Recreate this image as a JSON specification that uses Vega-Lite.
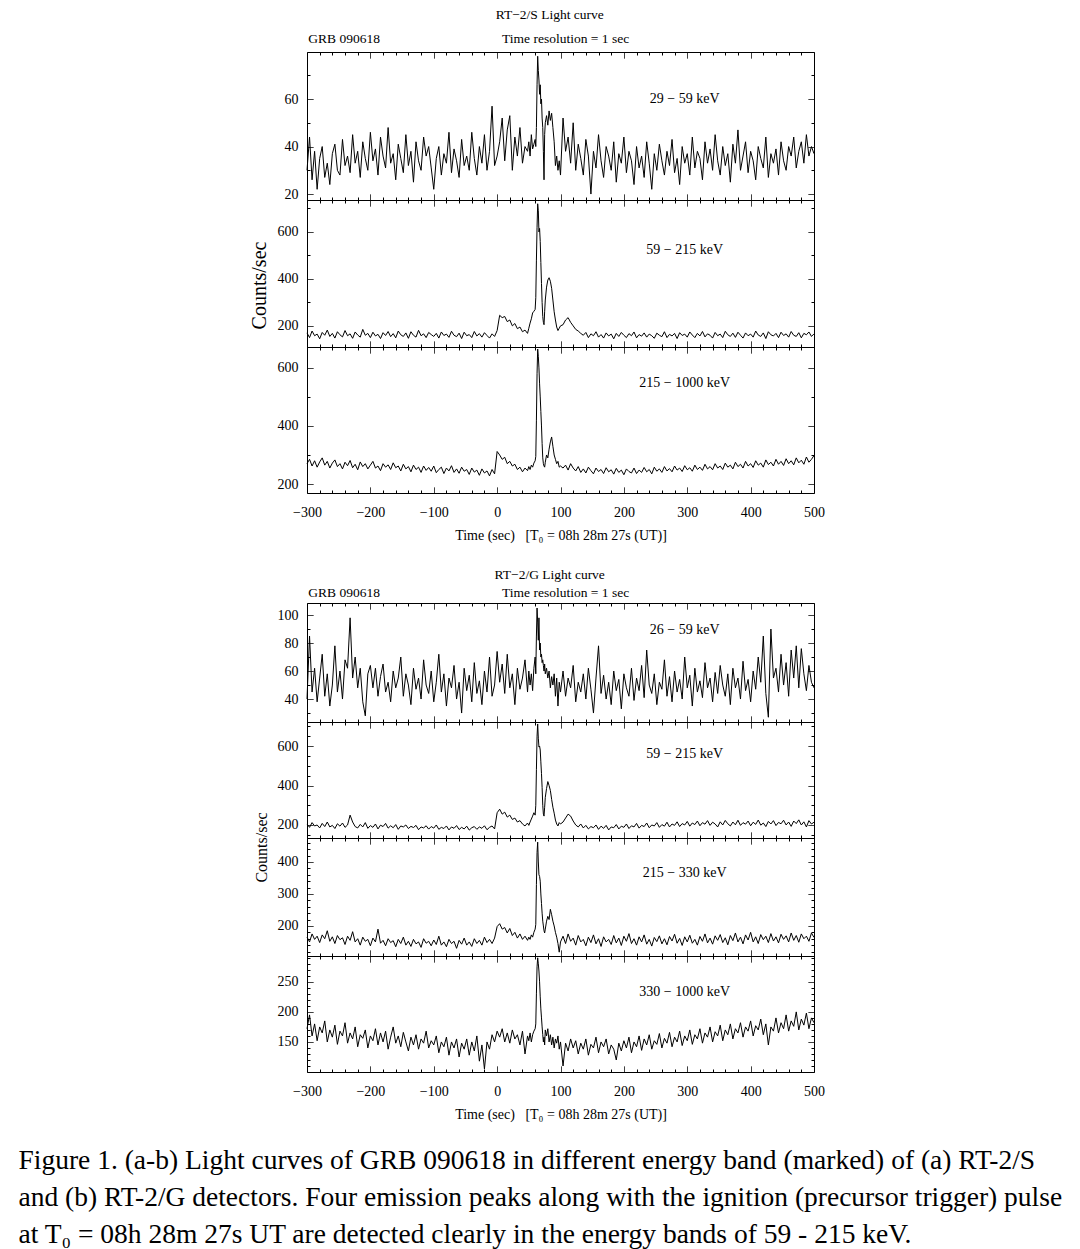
{
  "$schema": "https://vega.github.io/schema/vega-lite/v6.json",
  "background": "white",
  "padding": {"left": 18, "top": 7, "right": 5, "bottom": 2},
  "title": {
    "text": [
      "Figure 1. (a-b) Light curves of GRB 090618 in different energy band (marked) of (a) RT-2/S",
      "and (b) RT-2/G detectors. Four emission peaks along with the ignition (precursor trigger) pulse",
      "at T₀ = 08h 28m 27s UT are detected clearly in the energy bands of 59 - 215 keV."
    ],
    "orient": "bottom", "anchor": "start", "frame": "bounds", "dx": -230, "offset": 25,
    "fontSize": 27.5, "lineHeight": 37, "font": "Liberation Serif", "fontWeight": "normal", "color": "black"
  },
  "config": {
    "font": "Liberation Serif",
    "view": {"stroke": "black", "strokeWidth": 1},
    "style": {"guide-label": {"font": "Liberation Serif", "fontSize": 14, "fill": "black"}, "guide-title": {"font": "Liberation Serif", "fontSize": 14, "fill": "black"}},
    "axis": {
      "domain": false, "grid": false, "tickSize": -6, "tickColor": "black", "tickWidth": 1,
      "labelFont": "Liberation Serif", "labelFontSize": 14, "labelColor": "black", "labelPadding": 15,
      "labelFlush": false, "labelOverlap": false,
      "titleFont": "Liberation Serif", "titleFontSize": 14, "titleFontWeight": "normal", "titleColor": "black"
    },
    "title": {"font": "Liberation Serif", "fontWeight": "normal", "color": "black"}
  },
  "datasets": {
    "lc": [
      {"t":-300,"a1":30,"a2":170,"a3":270,"b1":40,"b2":205,"b3":165,"b4":172},
      {"t":-296,"a1":44,"a2":150,"a3":285,"b1":85,"b2":188,"b3":150,"b4":195},
      {"t":-292,"a1":26,"a2":178,"a3":262,"b1":45,"b2":212,"b3":175,"b4":160},
      {"t":-288,"a1":38,"a2":158,"a3":280,"b1":62,"b2":195,"b3":158,"b4":180},
      {"t":-284,"a1":22,"a2":165,"a3":258,"b1":38,"b2":200,"b3":168,"b4":152},
      {"t":-280,"a1":35,"a2":145,"a3":276,"b1":55,"b2":185,"b3":148,"b4":175},
      {"t":-276,"a1":40,"a2":172,"a3":290,"b1":72,"b2":208,"b3":172,"b4":165},
      {"t":-272,"a1":27,"a2":160,"a3":265,"b1":42,"b2":192,"b3":160,"b4":185},
      {"t":-268,"a1":33,"a2":182,"a3":278,"b1":58,"b2":215,"b3":185,"b4":150},
      {"t":-264,"a1":24,"a2":155,"a3":255,"b1":35,"b2":190,"b3":152,"b4":170},
      {"t":-260,"a1":37,"a2":168,"a3":272,"b1":50,"b2":198,"b3":166,"b4":158},
      {"t":-256,"a1":41,"a2":148,"a3":283,"b1":78,"b2":182,"b3":145,"b4":178},
      {"t":-252,"a1":30,"a2":175,"a3":260,"b1":45,"b2":206,"b3":170,"b4":146},
      {"t":-248,"a1":28,"a2":162,"a3":270,"b1":60,"b2":194,"b3":157,"b4":168},
      {"t":-244,"a1":43,"a2":153,"a3":252,"b1":40,"b2":210,"b3":163,"b4":160},
      {"t":-240,"a1":32,"a2":180,"a3":275,"b1":68,"b2":188,"b3":142,"b4":182},
      {"t":-236,"a1":36,"a2":158,"a3":263,"b1":62,"b2":200,"b3":168,"b4":148},
      {"t":-232,"a1":29,"a2":166,"a3":281,"b1":98,"b2":250,"b3":155,"b4":165},
      {"t":-228,"a1":45,"a2":147,"a3":256,"b1":55,"b2":215,"b3":182,"b4":155},
      {"t":-224,"a1":33,"a2":174,"a3":268,"b1":70,"b2":192,"b3":150,"b4":175},
      {"t":-220,"a1":38,"a2":161,"a3":249,"b1":48,"b2":185,"b3":160,"b4":142},
      {"t":-216,"a1":27,"a2":152,"a3":276,"b1":62,"b2":203,"b3":140,"b4":162},
      {"t":-212,"a1":42,"a2":185,"a3":260,"b1":38,"b2":190,"b3":165,"b4":156},
      {"t":-208,"a1":35,"a2":160,"a3":270,"b1":28,"b2":212,"b3":152,"b4":170},
      {"t":-204,"a1":30,"a2":168,"a3":252,"b1":58,"b2":183,"b3":158,"b4":140},
      {"t":-200,"a1":46,"a2":150,"a3":265,"b1":64,"b2":197,"b3":138,"b4":160},
      {"t":-196,"a1":34,"a2":173,"a3":278,"b1":48,"b2":188,"b3":162,"b4":152},
      {"t":-192,"a1":39,"a2":157,"a3":255,"b1":62,"b2":205,"b3":150,"b4":172},
      {"t":-188,"a1":28,"a2":164,"a3":262,"b1":42,"b2":180,"b3":190,"b4":145},
      {"t":-184,"a1":44,"a2":146,"a3":246,"b1":56,"b2":199,"b3":146,"b4":165},
      {"t":-180,"a1":36,"a2":171,"a3":270,"b1":65,"b2":192,"b3":155,"b4":150},
      {"t":-176,"a1":31,"a2":159,"a3":258,"b1":45,"b2":208,"b3":138,"b4":168},
      {"t":-172,"a1":48,"a2":176,"a3":266,"b1":52,"b2":184,"b3":160,"b4":138},
      {"t":-168,"a1":33,"a2":154,"a3":250,"b1":38,"b2":196,"b3":148,"b4":158},
      {"t":-164,"a1":37,"a2":167,"a3":273,"b1":60,"b2":186,"b3":154,"b4":175},
      {"t":-160,"a1":26,"a2":149,"a3":256,"b1":48,"b2":202,"b3":135,"b4":148},
      {"t":-156,"a1":41,"a2":178,"a3":262,"b1":55,"b2":178,"b3":158,"b4":160},
      {"t":-152,"a1":35,"a2":162,"a3":245,"b1":70,"b2":195,"b3":145,"b4":142},
      {"t":-148,"a1":29,"a2":155,"a3":268,"b1":42,"b2":190,"b3":165,"b4":166},
      {"t":-144,"a1":45,"a2":170,"a3":252,"b1":58,"b2":200,"b3":140,"b4":150},
      {"t":-140,"a1":32,"a2":147,"a3":260,"b1":50,"b2":182,"b3":152,"b4":135},
      {"t":-136,"a1":38,"a2":175,"a3":242,"b1":36,"b2":193,"b3":136,"b4":158},
      {"t":-132,"a1":25,"a2":160,"a3":265,"b1":62,"b2":187,"b3":158,"b4":145},
      {"t":-128,"a1":42,"a2":152,"a3":250,"b1":47,"b2":198,"b3":144,"b4":162},
      {"t":-124,"a1":34,"a2":181,"a3":258,"b1":55,"b2":176,"b3":150,"b4":138},
      {"t":-120,"a1":30,"a2":158,"a3":240,"b1":40,"b2":190,"b3":133,"b4":155},
      {"t":-116,"a1":44,"a2":166,"a3":262,"b1":68,"b2":185,"b3":160,"b4":148},
      {"t":-112,"a1":36,"a2":150,"a3":247,"b1":50,"b2":196,"b3":146,"b4":168},
      {"t":-108,"a1":40,"a2":172,"a3":257,"b1":44,"b2":179,"b3":152,"b4":140},
      {"t":-104,"a1":31,"a2":163,"a3":244,"b1":60,"b2":192,"b3":138,"b4":152},
      {"t":-100,"a1":22,"a2":155,"a3":262,"b1":38,"b2":184,"b3":156,"b4":145},
      {"t":-96,"a1":35,"a2":168,"a3":239,"b1":52,"b2":200,"b3":142,"b4":160},
      {"t":-92,"a1":40,"a2":148,"a3":250,"b1":72,"b2":178,"b3":168,"b4":132},
      {"t":-88,"a1":28,"a2":174,"a3":258,"b1":45,"b2":188,"b3":140,"b4":150},
      {"t":-84,"a1":37,"a2":159,"a3":236,"b1":58,"b2":182,"b3":150,"b4":142},
      {"t":-80,"a1":33,"a2":165,"a3":255,"b1":35,"b2":195,"b3":135,"b4":158},
      {"t":-76,"a1":46,"a2":151,"a3":245,"b1":55,"b2":175,"b3":158,"b4":128},
      {"t":-72,"a1":29,"a2":177,"a3":263,"b1":48,"b2":190,"b3":145,"b4":150},
      {"t":-68,"a1":39,"a2":160,"a3":240,"b1":64,"b2":183,"b3":152,"b4":140},
      {"t":-64,"a1":34,"a2":154,"a3":252,"b1":40,"b2":197,"b3":130,"b4":155},
      {"t":-60,"a1":27,"a2":169,"a3":237,"b1":52,"b2":177,"b3":155,"b4":125},
      {"t":-56,"a1":43,"a2":146,"a3":258,"b1":30,"b2":188,"b3":143,"b4":148},
      {"t":-52,"a1":32,"a2":173,"a3":244,"b1":62,"b2":180,"b3":162,"b4":138},
      {"t":-48,"a1":36,"a2":158,"a3":250,"b1":46,"b2":194,"b3":140,"b4":155},
      {"t":-44,"a1":30,"a2":163,"a3":233,"b1":57,"b2":174,"b3":150,"b4":128},
      {"t":-40,"a1":46,"a2":150,"a3":255,"b1":38,"b2":186,"b3":136,"b4":150},
      {"t":-36,"a1":35,"a2":176,"a3":241,"b1":66,"b2":192,"b3":160,"b4":135},
      {"t":-32,"a1":28,"a2":157,"a3":248,"b1":44,"b2":178,"b3":145,"b4":160},
      {"t":-28,"a1":40,"a2":167,"a3":230,"b1":53,"b2":190,"b3":155,"b4":118},
      {"t":-24,"a1":33,"a2":152,"a3":252,"b1":36,"b2":183,"b3":140,"b4":145},
      {"t":-20,"a1":45,"a2":171,"a3":238,"b1":60,"b2":196,"b3":165,"b4":105},
      {"t":-16,"a1":30,"a2":159,"a3":245,"b1":45,"b2":176,"b3":148,"b4":150},
      {"t":-12,"a1":38,"a2":148,"a3":228,"b1":70,"b2":188,"b3":158,"b4":138},
      {"t":-8,"a1":57,"a2":166,"a3":250,"b1":42,"b2":195,"b3":145,"b4":162},
      {"t":-4,"a1":32,"a2":155,"a3":235,"b1":50,"b2":180,"b3":162,"b4":150},
      {"t":0,"a1":36,"a2":180,"a3":312,"b1":74,"b2":262,"b3":198,"b4":168},
      {"t":4,"a1":42,"a2":245,"a3":300,"b1":52,"b2":280,"b3":207,"b4":158},
      {"t":8,"a1":52,"a2":235,"a3":285,"b1":65,"b2":255,"b3":190,"b4":172},
      {"t":12,"a1":34,"a2":240,"a3":292,"b1":44,"b2":265,"b3":195,"b4":150},
      {"t":16,"a1":47,"a2":218,"a3":270,"b1":72,"b2":240,"b3":178,"b4":165},
      {"t":20,"a1":53,"a2":225,"a3":278,"b1":48,"b2":250,"b3":192,"b4":148},
      {"t":24,"a1":30,"a2":200,"a3":262,"b1":58,"b2":228,"b3":170,"b4":170},
      {"t":28,"a1":44,"a2":210,"a3":268,"b1":36,"b2":235,"b3":180,"b4":155},
      {"t":32,"a1":36,"a2":188,"a3":250,"b1":62,"b2":215,"b3":162,"b4":162},
      {"t":36,"a1":48,"a2":195,"a3":258,"b1":47,"b2":222,"b3":175,"b4":145},
      {"t":40,"a1":33,"a2":175,"a3":242,"b1":55,"b2":205,"b3":158,"b4":168},
      {"t":44,"a1":40,"a2":182,"a3":255,"b1":68,"b2":195,"b3":168,"b4":130},
      {"t":48,"a1":38,"a2":168,"a3":246,"b1":45,"b2":210,"b3":155,"b4":160},
      {"t":50,"a1":42,"a2":190,"a3":260,"b1":60,"b2":198,"b3":165,"b4":152},
      {"t":52,"a1":36,"a2":212,"a3":250,"b1":50,"b2":215,"b3":158,"b4":165},
      {"t":54,"a1":45,"a2":230,"a3":265,"b1":58,"b2":230,"b3":172,"b4":150},
      {"t":56,"a1":39,"a2":255,"a3":258,"b1":46,"b2":245,"b3":165,"b4":162},
      {"t":58,"a1":41,"a2":262,"a3":272,"b1":62,"b2":262,"b3":180,"b4":168},
      {"t":60,"a1":43,"a2":270,"a3":280,"b1":70,"b2":250,"b3":190,"b4":172},
      {"t":61,"a1":40,"a2":320,"a3":295,"b1":58,"b2":300,"b3":205,"b4":180},
      {"t":62,"a1":48,"a2":480,"a3":420,"b1":85,"b2":480,"b3":330,"b4":230},
      {"t":63,"a1":66,"a2":620,"a3":580,"b1":105,"b2":650,"b3":430,"b4":275},
      {"t":64,"a1":78,"a2":720,"a3":665,"b1":95,"b2":712,"b3":462,"b4":290},
      {"t":65,"a1":72,"a2":690,"a3":640,"b1":82,"b2":640,"b3":400,"b4":280},
      {"t":66,"a1":68,"a2":600,"a3":600,"b1":98,"b2":595,"b3":360,"b4":268},
      {"t":67,"a1":62,"a2":615,"a3":545,"b1":75,"b2":600,"b3":355,"b4":250},
      {"t":68,"a1":66,"a2":560,"a3":500,"b1":80,"b2":580,"b3":340,"b4":225},
      {"t":69,"a1":58,"a2":470,"a3":450,"b1":70,"b2":520,"b3":300,"b4":205},
      {"t":70,"a1":60,"a2":380,"a3":400,"b1":72,"b2":460,"b3":270,"b4":190},
      {"t":71,"a1":52,"a2":300,"a3":340,"b1":66,"b2":390,"b3":240,"b4":175},
      {"t":72,"a1":48,"a2":240,"a3":290,"b1":68,"b2":300,"b3":215,"b4":162},
      {"t":73,"a1":38,"a2":215,"a3":270,"b1":64,"b2":255,"b3":200,"b4":150},
      {"t":74,"a1":26,"a2":205,"a3":262,"b1":60,"b2":245,"b3":185,"b4":158},
      {"t":75,"a1":45,"a2":260,"a3":258,"b1":65,"b2":290,"b3":178,"b4":145},
      {"t":76,"a1":50,"a2":310,"a3":275,"b1":58,"b2":340,"b3":190,"b4":170},
      {"t":78,"a1":53,"a2":365,"a3":300,"b1":62,"b2":385,"b3":215,"b4":160},
      {"t":80,"a1":49,"a2":395,"a3":290,"b1":55,"b2":420,"b3":230,"b4":172},
      {"t":82,"a1":55,"a2":405,"a3":320,"b1":60,"b2":400,"b3":220,"b4":150},
      {"t":84,"a1":51,"a2":390,"a3":345,"b1":48,"b2":375,"b3":252,"b4":162},
      {"t":86,"a1":54,"a2":360,"a3":362,"b1":56,"b2":330,"b3":235,"b4":145},
      {"t":88,"a1":48,"a2":310,"a3":330,"b1":50,"b2":290,"b3":215,"b4":158},
      {"t":90,"a1":42,"a2":260,"a3":300,"b1":58,"b2":260,"b3":200,"b4":140},
      {"t":92,"a1":32,"a2":225,"a3":285,"b1":42,"b2":225,"b3":180,"b4":155},
      {"t":94,"a1":36,"a2":195,"a3":270,"b1":55,"b2":205,"b3":165,"b4":148},
      {"t":96,"a1":30,"a2":180,"a3":278,"b1":35,"b2":195,"b3":145,"b4":160},
      {"t":98,"a1":34,"a2":190,"a3":258,"b1":52,"b2":212,"b3":118,"b4":138},
      {"t":100,"a1":28,"a2":200,"a3":262,"b1":45,"b2":205,"b3":150,"b4":150},
      {"t":104,"a1":52,"a2":205,"a3":255,"b1":60,"b2":215,"b3":168,"b4":110},
      {"t":108,"a1":38,"a2":225,"a3":265,"b1":42,"b2":235,"b3":145,"b4":148},
      {"t":112,"a1":44,"a2":235,"a3":248,"b1":55,"b2":255,"b3":175,"b4":135},
      {"t":116,"a1":33,"a2":215,"a3":270,"b1":48,"b2":245,"b3":152,"b4":155},
      {"t":120,"a1":50,"a2":200,"a3":255,"b1":64,"b2":220,"b3":162,"b4":140},
      {"t":124,"a1":30,"a2":185,"a3":245,"b1":38,"b2":200,"b3":140,"b4":152},
      {"t":128,"a1":41,"a2":178,"a3":260,"b1":52,"b2":190,"b3":170,"b4":130},
      {"t":132,"a1":35,"a2":168,"a3":240,"b1":45,"b2":205,"b3":150,"b4":148},
      {"t":136,"a1":28,"a2":160,"a3":252,"b1":58,"b2":185,"b3":158,"b4":138},
      {"t":140,"a1":43,"a2":172,"a3":238,"b1":40,"b2":198,"b3":138,"b4":155},
      {"t":144,"a1":36,"a2":150,"a3":258,"b1":62,"b2":180,"b3":165,"b4":128},
      {"t":148,"a1":20,"a2":166,"a3":246,"b1":47,"b2":192,"b3":148,"b4":146},
      {"t":152,"a1":38,"a2":158,"a3":235,"b1":30,"b2":186,"b3":172,"b4":140},
      {"t":156,"a1":31,"a2":175,"a3":255,"b1":55,"b2":200,"b3":144,"b4":158},
      {"t":160,"a1":45,"a2":152,"a3":243,"b1":78,"b2":178,"b3":160,"b4":132},
      {"t":164,"a1":34,"a2":163,"a3":250,"b1":44,"b2":194,"b3":136,"b4":150},
      {"t":168,"a1":27,"a2":148,"a3":236,"b1":57,"b2":183,"b3":166,"b4":142},
      {"t":172,"a1":40,"a2":170,"a3":256,"b1":40,"b2":198,"b3":150,"b4":155},
      {"t":176,"a1":36,"a2":157,"a3":242,"b1":52,"b2":175,"b3":158,"b4":130},
      {"t":180,"a1":30,"a2":165,"a3":249,"b1":36,"b2":190,"b3":142,"b4":145},
      {"t":184,"a1":42,"a2":145,"a3":234,"b1":60,"b2":186,"b3":170,"b4":138},
      {"t":188,"a1":25,"a2":168,"a3":254,"b1":46,"b2":202,"b3":147,"b4":120},
      {"t":192,"a1":37,"a2":155,"a3":240,"b1":54,"b2":180,"b3":162,"b4":148},
      {"t":196,"a1":33,"a2":172,"a3":248,"b1":33,"b2":194,"b3":139,"b4":135},
      {"t":200,"a1":44,"a2":160,"a3":232,"b1":58,"b2":188,"b3":168,"b4":152},
      {"t":204,"a1":29,"a2":150,"a3":252,"b1":48,"b2":205,"b3":152,"b4":140},
      {"t":208,"a1":38,"a2":167,"a3":243,"b1":42,"b2":182,"b3":176,"b4":158},
      {"t":212,"a1":34,"a2":158,"a3":238,"b1":62,"b2":196,"b3":145,"b4":132},
      {"t":216,"a1":24,"a2":174,"a3":255,"b1":39,"b2":190,"b3":160,"b4":150},
      {"t":220,"a1":40,"a2":149,"a3":236,"b1":55,"b2":208,"b3":140,"b4":142},
      {"t":224,"a1":31,"a2":163,"a3":248,"b1":46,"b2":184,"b3":166,"b4":160},
      {"t":228,"a1":36,"a2":156,"a3":240,"b1":64,"b2":198,"b3":150,"b4":136},
      {"t":232,"a1":27,"a2":170,"a3":257,"b1":41,"b2":192,"b3":172,"b4":155},
      {"t":236,"a1":42,"a2":152,"a3":242,"b1":75,"b2":210,"b3":143,"b4":145},
      {"t":240,"a1":33,"a2":165,"a3":250,"b1":50,"b2":186,"b3":158,"b4":162},
      {"t":244,"a1":22,"a2":158,"a3":235,"b1":44,"b2":200,"b3":137,"b4":138},
      {"t":248,"a1":37,"a2":147,"a3":258,"b1":58,"b2":195,"b3":164,"b4":152},
      {"t":252,"a1":30,"a2":169,"a3":244,"b1":36,"b2":212,"b3":151,"b4":146},
      {"t":256,"a1":41,"a2":160,"a3":252,"b1":52,"b2":188,"b3":169,"b4":164},
      {"t":260,"a1":34,"a2":154,"a3":240,"b1":47,"b2":202,"b3":144,"b4":140},
      {"t":264,"a1":28,"a2":175,"a3":260,"b1":68,"b2":194,"b3":160,"b4":156},
      {"t":268,"a1":38,"a2":150,"a3":245,"b1":42,"b2":214,"b3":141,"b4":148},
      {"t":272,"a1":32,"a2":164,"a3":253,"b1":56,"b2":190,"b3":167,"b4":166},
      {"t":276,"a1":43,"a2":157,"a3":242,"b1":38,"b2":205,"b3":153,"b4":142},
      {"t":280,"a1":29,"a2":168,"a3":262,"b1":60,"b2":198,"b3":174,"b4":158},
      {"t":284,"a1":35,"a2":146,"a3":248,"b1":45,"b2":216,"b3":146,"b4":150},
      {"t":288,"a1":24,"a2":171,"a3":255,"b1":54,"b2":192,"b3":161,"b4":168},
      {"t":292,"a1":40,"a2":159,"a3":243,"b1":40,"b2":207,"b3":139,"b4":144},
      {"t":296,"a1":33,"a2":165,"a3":263,"b1":70,"b2":200,"b3":166,"b4":160},
      {"t":300,"a1":37,"a2":152,"a3":249,"b1":48,"b2":218,"b3":150,"b4":152},
      {"t":304,"a1":28,"a2":174,"a3":256,"b1":57,"b2":194,"b3":171,"b4":170},
      {"t":308,"a1":44,"a2":161,"a3":244,"b1":35,"b2":210,"b3":146,"b4":146},
      {"t":312,"a1":31,"a2":150,"a3":265,"b1":62,"b2":202,"b3":158,"b4":162},
      {"t":316,"a1":38,"a2":168,"a3":250,"b1":45,"b2":220,"b3":140,"b4":155},
      {"t":320,"a1":35,"a2":157,"a3":258,"b1":53,"b2":196,"b3":167,"b4":172},
      {"t":324,"a1":26,"a2":176,"a3":247,"b1":41,"b2":212,"b3":152,"b4":148},
      {"t":328,"a1":42,"a2":153,"a3":268,"b1":66,"b2":204,"b3":175,"b4":165},
      {"t":332,"a1":33,"a2":166,"a3":252,"b1":48,"b2":222,"b3":147,"b4":158},
      {"t":336,"a1":39,"a2":160,"a3":260,"b1":55,"b2":198,"b3":162,"b4":175},
      {"t":340,"a1":30,"a2":148,"a3":249,"b1":38,"b2":214,"b3":143,"b4":150},
      {"t":344,"a1":45,"a2":172,"a3":270,"b1":59,"b2":205,"b3":169,"b4":167},
      {"t":348,"a1":34,"a2":158,"a3":255,"b1":44,"b2":190,"b3":155,"b4":160},
      {"t":352,"a1":28,"a2":165,"a3":262,"b1":64,"b2":216,"b3":173,"b4":178},
      {"t":356,"a1":40,"a2":150,"a3":250,"b1":50,"b2":200,"b3":148,"b4":152},
      {"t":360,"a1":32,"a2":177,"a3":272,"b1":42,"b2":223,"b3":163,"b4":170},
      {"t":364,"a1":37,"a2":162,"a3":258,"b1":58,"b2":206,"b3":141,"b4":162},
      {"t":368,"a1":25,"a2":155,"a3":265,"b1":36,"b2":195,"b3":170,"b4":180},
      {"t":372,"a1":41,"a2":169,"a3":252,"b1":62,"b2":215,"b3":154,"b4":155},
      {"t":376,"a1":33,"a2":151,"a3":275,"b1":48,"b2":201,"b3":178,"b4":172},
      {"t":380,"a1":47,"a2":173,"a3":260,"b1":55,"b2":224,"b3":150,"b4":165},
      {"t":384,"a1":30,"a2":160,"a3":268,"b1":40,"b2":198,"b3":165,"b4":182},
      {"t":388,"a1":36,"a2":148,"a3":255,"b1":67,"b2":212,"b3":144,"b4":158},
      {"t":392,"a1":42,"a2":170,"a3":278,"b1":46,"b2":204,"b3":172,"b4":175},
      {"t":396,"a1":29,"a2":158,"a3":262,"b1":54,"b2":220,"b3":156,"b4":168},
      {"t":400,"a1":38,"a2":165,"a3":270,"b1":38,"b2":196,"b3":180,"b4":185},
      {"t":404,"a1":34,"a2":152,"a3":257,"b1":60,"b2":214,"b3":150,"b4":160},
      {"t":408,"a1":26,"a2":178,"a3":280,"b1":47,"b2":203,"b3":166,"b4":177},
      {"t":412,"a1":40,"a2":161,"a3":265,"b1":70,"b2":225,"b3":145,"b4":170},
      {"t":416,"a1":35,"a2":155,"a3":272,"b1":52,"b2":199,"b3":173,"b4":188},
      {"t":420,"a1":31,"a2":170,"a3":258,"b1":85,"b2":210,"b3":157,"b4":162},
      {"t":424,"a1":44,"a2":146,"a3":283,"b1":44,"b2":192,"b3":168,"b4":180},
      {"t":428,"a1":27,"a2":175,"a3":267,"b1":27,"b2":218,"b3":148,"b4":145},
      {"t":432,"a1":37,"a2":162,"a3":275,"b1":90,"b2":205,"b3":176,"b4":175},
      {"t":436,"a1":33,"a2":157,"a3":262,"b1":55,"b2":222,"b3":153,"b4":168},
      {"t":440,"a1":39,"a2":168,"a3":285,"b1":62,"b2":197,"b3":166,"b4":190},
      {"t":444,"a1":28,"a2":150,"a3":268,"b1":45,"b2":213,"b3":147,"b4":165},
      {"t":448,"a1":42,"a2":173,"a3":278,"b1":72,"b2":206,"b3":174,"b4":182},
      {"t":452,"a1":34,"a2":159,"a3":264,"b1":50,"b2":224,"b3":158,"b4":172},
      {"t":456,"a1":30,"a2":166,"a3":287,"b1":66,"b2":200,"b3":169,"b4":195},
      {"t":460,"a1":40,"a2":152,"a3":270,"b1":42,"b2":215,"b3":150,"b4":168},
      {"t":464,"a1":36,"a2":176,"a3":280,"b1":75,"b2":193,"b3":178,"b4":185},
      {"t":468,"a1":44,"a2":160,"a3":266,"b1":55,"b2":220,"b3":155,"b4":176},
      {"t":472,"a1":31,"a2":155,"a3":290,"b1":78,"b2":207,"b3":170,"b4":200},
      {"t":476,"a1":38,"a2":171,"a3":273,"b1":48,"b2":226,"b3":149,"b4":170},
      {"t":480,"a1":42,"a2":149,"a3":282,"b1":76,"b2":200,"b3":175,"b4":188},
      {"t":484,"a1":33,"a2":168,"a3":268,"b1":58,"b2":216,"b3":160,"b4":178},
      {"t":488,"a1":45,"a2":162,"a3":293,"b1":46,"b2":190,"b3":168,"b4":198},
      {"t":492,"a1":36,"a2":174,"a3":275,"b1":64,"b2":222,"b3":152,"b4":172},
      {"t":496,"a1":40,"a2":155,"a3":285,"b1":52,"b2":205,"b3":178,"b4":190},
      {"t":500,"a1":37,"a2":166,"a3":298,"b1":48,"b2":214,"b3":164,"b4":182}
    ]
  },
  "vconcat": [
    {
      "spacing": 0,
      "bounds": "flush",
      "vconcat": [
        {
          "width": 507, "height": 148,
          "data": {"name": "lc"},
          "layer": [
            {"mark": {"type": "line", "color": "black", "strokeWidth": 1},
             "encoding": {
               "x": {"field": "t", "type": "quantitative", "scale": {"domain": [-300, 500], "nice": false, "zero": false},
                     "axis": {"orient": "bottom", "values": [-300,-280,-260,-240,-220,-200,-180,-160,-140,-120,-100,-80,-60,-40,-20,0,20,40,60,80,100,120,140,160,180,200,220,240,260,280,300,320,340,360,380,400,420,440,460,480,500], "labels": false, "title": null, "tickDash": {"condition": {"test": "datum.value % 100 !== 0", "value": [3, 20]}, "value": [1, 0]}}},
               "y": {"field": "a1", "type": "quantitative", "scale": {"domain": [17.5, 79.8], "nice": false, "zero": false},
                     "axis": {"orient": "left", "values": [20,30,40,50,60,70], "title": null, "labelExpr": "datum.value % 20 === 0 ? datum.label : ''", "tickDash": {"condition": {"test": "datum.value % 20 !== 0", "value": [3, 20]}, "value": [1, 0]}}}
             }},
            {"mark": {"type": "line", "opacity": 0},
             "encoding": {
               "x": {"field": "t", "type": "quantitative", "axis": {"orient": "top", "values": [-300,-280,-260,-240,-220,-200,-180,-160,-140,-120,-100,-80,-60,-40,-20,0,20,40,60,80,100,120,140,160,180,200,220,240,260,280,300,320,340,360,380,400,420,440,460,480,500], "labels": false, "title": null, "tickDash": {"condition": {"test": "datum.value % 100 !== 0", "value": [3, 20]}, "value": [1, 0]}}},
               "y": {"field": "a1", "type": "quantitative", "axis": {"orient": "right", "values": [20,30,40,50,60,70], "labels": false, "title": null, "tickDash": {"condition": {"test": "datum.value % 20 !== 0", "value": [3, 20]}, "value": [1, 0]}}}
             }},
            {"data": {"values": [{}]},
             "mark": {"type": "text", "fontSize": 14, "color": "black"},
             "encoding": {"x": {"datum": 296, "axis": null}, "y": {"datum": 60, "axis": null}, "text": {"value": "29 − 59 keV"}}},
            {"data": {"values": [{}]},
             "mark": {"type": "text", "fontSize": 13.5, "color": "black", "align": "left"},
             "encoding": {"x": {"datum": -298, "axis": null}, "y": {"datum": 85.3, "axis": null}, "text": {"value": "GRB 090618"}}},
            {"data": {"values": [{}]},
             "mark": {"type": "text", "fontSize": 13.5, "color": "black"},
             "encoding": {"x": {"datum": 108, "axis": null}, "y": {"datum": 85.3, "axis": null}, "text": {"value": "Time resolution = 1 sec"}}},
            {"data": {"values": [{}]},
             "mark": {"type": "text", "fontSize": 13.5, "color": "black"},
             "encoding": {"x": {"datum": 83, "axis": null}, "y": {"datum": 95.4, "axis": null}, "text": {"value": "RT−2/S Light curve"}}}
          ],
          "resolve": {"axis": {"x": "independent", "y": "independent"}}
        },
        {
          "width": 507, "height": 147,
          "data": {"name": "lc"},
          "layer": [
            {"mark": {"type": "line", "color": "black", "strokeWidth": 1},
             "encoding": {
               "x": {"field": "t", "type": "quantitative", "scale": {"domain": [-300, 500], "nice": false, "zero": false},
                     "axis": {"orient": "bottom", "values": [-300,-280,-260,-240,-220,-200,-180,-160,-140,-120,-100,-80,-60,-40,-20,0,20,40,60,80,100,120,140,160,180,200,220,240,260,280,300,320,340,360,380,400,420,440,460,480,500], "labels": false, "title": null, "tickDash": {"condition": {"test": "datum.value % 100 !== 0", "value": [3, 20]}, "value": [1, 0]}}},
               "y": {"field": "a2", "type": "quantitative", "scale": {"domain": [110, 736], "nice": false, "zero": false},
                     "axis": {"orient": "left", "values": [200,300,400,500,600,700], "title": "Counts/sec", "titleFontSize": 20, "titleY": 85, "titlePadding": 8, "labelExpr": "datum.value % 200 === 0 ? datum.label : ''", "tickDash": {"condition": {"test": "datum.value % 200 !== 0", "value": [3, 20]}, "value": [1, 0]}}}
             }},
            {"mark": {"type": "line", "opacity": 0},
             "encoding": {
               "x": {"field": "t", "type": "quantitative", "axis": {"orient": "top", "values": [-300,-280,-260,-240,-220,-200,-180,-160,-140,-120,-100,-80,-60,-40,-20,0,20,40,60,80,100,120,140,160,180,200,220,240,260,280,300,320,340,360,380,400,420,440,460,480,500], "labels": false, "title": null, "tickDash": {"condition": {"test": "datum.value % 100 !== 0", "value": [3, 20]}, "value": [1, 0]}}},
               "y": {"field": "a2", "type": "quantitative", "axis": {"orient": "right", "values": [200,300,400,500,600,700], "labels": false, "title": null, "tickDash": {"condition": {"test": "datum.value % 200 !== 0", "value": [3, 20]}, "value": [1, 0]}}}
             }},
            {"data": {"values": [{}]},
             "mark": {"type": "text", "fontSize": 14, "color": "black"},
             "encoding": {"x": {"datum": 296, "axis": null}, "y": {"datum": 523, "axis": null}, "text": {"value": "59 − 215 keV"}}}
          ],
          "resolve": {"axis": {"x": "independent", "y": "independent"}}
        },
        {
          "width": 507, "height": 146,
          "data": {"name": "lc"},
          "layer": [
            {"mark": {"type": "line", "color": "black", "strokeWidth": 1},
             "encoding": {
               "x": {"field": "t", "type": "quantitative", "scale": {"domain": [-300, 500], "nice": false, "zero": false},
                     "axis": {"orient": "bottom", "values": [-300,-280,-260,-240,-220,-200,-180,-160,-140,-120,-100,-80,-60,-40,-20,0,20,40,60,80,100,120,140,160,180,200,220,240,260,280,300,320,340,360,380,400,420,440,460,480,500], "labelExpr": "datum.value % 100 === 0 ? datum.label : ''", "labelPadding": 18, "title": "Time (sec)\u00a0\u00a0\u00a0[T₀ = 08h 28m 27s (UT)]", "titlePadding": 9, "tickDash": {"condition": {"test": "datum.value % 100 !== 0", "value": [3, 20]}, "value": [1, 0]}}},
               "y": {"field": "a3", "type": "quantitative", "scale": {"domain": [169, 672], "nice": false, "zero": false},
                     "axis": {"orient": "left", "values": [200,300,400,500,600], "title": null, "labelExpr": "datum.value % 200 === 0 ? datum.label : ''", "tickDash": {"condition": {"test": "datum.value % 200 !== 0", "value": [3, 20]}, "value": [1, 0]}}}
             }},
            {"mark": {"type": "line", "opacity": 0},
             "encoding": {
               "x": {"field": "t", "type": "quantitative", "axis": {"orient": "top", "values": [-300,-280,-260,-240,-220,-200,-180,-160,-140,-120,-100,-80,-60,-40,-20,0,20,40,60,80,100,120,140,160,180,200,220,240,260,280,300,320,340,360,380,400,420,440,460,480,500], "labels": false, "title": null, "tickDash": {"condition": {"test": "datum.value % 100 !== 0", "value": [3, 20]}, "value": [1, 0]}}},
               "y": {"field": "a3", "type": "quantitative", "axis": {"orient": "right", "values": [200,300,400,500,600], "labels": false, "title": null, "tickDash": {"condition": {"test": "datum.value % 200 !== 0", "value": [3, 20]}, "value": [1, 0]}}}
             }},
            {"data": {"values": [{}]},
             "mark": {"type": "text", "fontSize": 14, "color": "black"},
             "encoding": {"x": {"datum": 296, "axis": null}, "y": {"datum": 548, "axis": null}, "text": {"value": "215 − 1000 keV"}}}
          ],
          "resolve": {"axis": {"x": "independent", "y": "independent"}}
        }
      ]
    },
    {
      "spacing": 0,
      "bounds": "flush",
      "vconcat": [
        {
          "width": 507, "height": 119,
          "data": {"name": "lc"},
          "layer": [
            {"mark": {"type": "line", "color": "black", "strokeWidth": 1},
             "encoding": {
               "x": {"field": "t", "type": "quantitative", "scale": {"domain": [-300, 500], "nice": false, "zero": false},
                     "axis": {"orient": "bottom", "values": [-300,-280,-260,-240,-220,-200,-180,-160,-140,-120,-100,-80,-60,-40,-20,0,20,40,60,80,100,120,140,160,180,200,220,240,260,280,300,320,340,360,380,400,420,440,460,480,500], "labels": false, "title": null, "tickDash": {"condition": {"test": "datum.value % 100 !== 0", "value": [3, 20]}, "value": [1, 0]}}},
               "y": {"field": "b1", "type": "quantitative", "scale": {"domain": [23.6, 108.6], "nice": false, "zero": false},
                     "axis": {"orient": "left", "values": [30,40,50,60,70,80,90,100], "title": null, "labelExpr": "datum.value % 20 === 0 ? datum.label : ''", "tickDash": {"condition": {"test": "datum.value % 20 !== 0", "value": [3, 20]}, "value": [1, 0]}}}
             }},
            {"mark": {"type": "line", "opacity": 0},
             "encoding": {
               "x": {"field": "t", "type": "quantitative", "axis": {"orient": "top", "values": [-300,-280,-260,-240,-220,-200,-180,-160,-140,-120,-100,-80,-60,-40,-20,0,20,40,60,80,100,120,140,160,180,200,220,240,260,280,300,320,340,360,380,400,420,440,460,480,500], "labels": false, "title": null, "tickDash": {"condition": {"test": "datum.value % 100 !== 0", "value": [3, 20]}, "value": [1, 0]}}},
               "y": {"field": "b1", "type": "quantitative", "axis": {"orient": "right", "values": [30,40,50,60,70,80,90,100], "labels": false, "title": null, "tickDash": {"condition": {"test": "datum.value % 20 !== 0", "value": [3, 20]}, "value": [1, 0]}}}
             }},
            {"data": {"values": [{}]},
             "mark": {"type": "text", "fontSize": 14, "color": "black"},
             "encoding": {"x": {"datum": 296, "axis": null}, "y": {"datum": 89, "axis": null}, "text": {"value": "26 − 59 keV"}}},
            {"data": {"values": [{}]},
             "mark": {"type": "text", "fontSize": 13.5, "color": "black", "align": "left"},
             "encoding": {"x": {"datum": -298, "axis": null}, "y": {"datum": 115.7, "axis": null}, "text": {"value": "GRB 090618"}}},
            {"data": {"values": [{}]},
             "mark": {"type": "text", "fontSize": 13.5, "color": "black"},
             "encoding": {"x": {"datum": 108, "axis": null}, "y": {"datum": 115.7, "axis": null}, "text": {"value": "Time resolution = 1 sec"}}},
            {"data": {"values": [{}]},
             "mark": {"type": "text", "fontSize": 13.5, "color": "black"},
             "encoding": {"x": {"datum": 83, "axis": null}, "y": {"datum": 128.6, "axis": null}, "text": {"value": "RT−2/G Light curve"}}}
          ],
          "resolve": {"axis": {"x": "independent", "y": "independent"}}
        },
        {
          "width": 507, "height": 116,
          "data": {"name": "lc"},
          "layer": [
            {"mark": {"type": "line", "color": "black", "strokeWidth": 1},
             "encoding": {
               "x": {"field": "t", "type": "quantitative", "scale": {"domain": [-300, 500], "nice": false, "zero": false},
                     "axis": {"orient": "bottom", "values": [-300,-280,-260,-240,-220,-200,-180,-160,-140,-120,-100,-80,-60,-40,-20,0,20,40,60,80,100,120,140,160,180,200,220,240,260,280,300,320,340,360,380,400,420,440,460,480,500], "labels": false, "title": null, "tickDash": {"condition": {"test": "datum.value % 100 !== 0", "value": [3, 20]}, "value": [1, 0]}}},
               "y": {"field": "b2", "type": "quantitative", "scale": {"domain": [134, 722], "nice": false, "zero": false},
                     "axis": {"orient": "left", "values": [150,200,250,300,350,400,450,500,550,600,650,700], "title": "Counts/sec", "titleFontSize": 16, "titleY": 125, "titlePadding": 8, "labelExpr": "datum.value % 200 === 0 ? datum.label : ''", "tickDash": {"condition": {"test": "datum.value % 200 !== 0", "value": [3, 20]}, "value": [1, 0]}}}
             }},
            {"mark": {"type": "line", "opacity": 0},
             "encoding": {
               "x": {"field": "t", "type": "quantitative", "axis": {"orient": "top", "values": [-300,-280,-260,-240,-220,-200,-180,-160,-140,-120,-100,-80,-60,-40,-20,0,20,40,60,80,100,120,140,160,180,200,220,240,260,280,300,320,340,360,380,400,420,440,460,480,500], "labels": false, "title": null, "tickDash": {"condition": {"test": "datum.value % 100 !== 0", "value": [3, 20]}, "value": [1, 0]}}},
               "y": {"field": "b2", "type": "quantitative", "axis": {"orient": "right", "values": [150,200,250,300,350,400,450,500,550,600,650,700], "labels": false, "title": null, "tickDash": {"condition": {"test": "datum.value % 200 !== 0", "value": [3, 20]}, "value": [1, 0]}}}
             }},
            {"data": {"values": [{}]},
             "mark": {"type": "text", "fontSize": 14, "color": "black"},
             "encoding": {"x": {"datum": 296, "axis": null}, "y": {"datum": 559, "axis": null}, "text": {"value": "59 − 215 keV"}}}
          ],
          "resolve": {"axis": {"x": "independent", "y": "independent"}}
        },
        {
          "width": 507, "height": 118,
          "data": {"name": "lc"},
          "layer": [
            {"mark": {"type": "line", "color": "black", "strokeWidth": 1},
             "encoding": {
               "x": {"field": "t", "type": "quantitative", "scale": {"domain": [-300, 500], "nice": false, "zero": false},
                     "axis": {"orient": "bottom", "values": [-300,-280,-260,-240,-220,-200,-180,-160,-140,-120,-100,-80,-60,-40,-20,0,20,40,60,80,100,120,140,160,180,200,220,240,260,280,300,320,340,360,380,400,420,440,460,480,500], "labels": false, "title": null, "tickDash": {"condition": {"test": "datum.value % 100 !== 0", "value": [3, 20]}, "value": [1, 0]}}},
               "y": {"field": "b3", "type": "quantitative", "scale": {"domain": [106, 475], "nice": false, "zero": false},
                     "axis": {"orient": "left", "values": [120,140,160,180,200,220,240,260,280,300,320,340,360,380,400,420,440,460], "title": null, "labelExpr": "datum.value % 100 === 0 ? datum.label : ''", "tickDash": {"condition": {"test": "datum.value % 100 !== 0", "value": [3, 20]}, "value": [1, 0]}}}
             }},
            {"mark": {"type": "line", "opacity": 0},
             "encoding": {
               "x": {"field": "t", "type": "quantitative", "axis": {"orient": "top", "values": [-300,-280,-260,-240,-220,-200,-180,-160,-140,-120,-100,-80,-60,-40,-20,0,20,40,60,80,100,120,140,160,180,200,220,240,260,280,300,320,340,360,380,400,420,440,460,480,500], "labels": false, "title": null, "tickDash": {"condition": {"test": "datum.value % 100 !== 0", "value": [3, 20]}, "value": [1, 0]}}},
               "y": {"field": "b3", "type": "quantitative", "axis": {"orient": "right", "values": [120,140,160,180,200,220,240,260,280,300,320,340,360,380,400,420,440,460], "labels": false, "title": null, "tickDash": {"condition": {"test": "datum.value % 100 !== 0", "value": [3, 20]}, "value": [1, 0]}}}
             }},
            {"data": {"values": [{}]},
             "mark": {"type": "text", "fontSize": 14, "color": "black"},
             "encoding": {"x": {"datum": 296, "axis": null}, "y": {"datum": 366, "axis": null}, "text": {"value": "215 − 330 keV"}}}
          ],
          "resolve": {"axis": {"x": "independent", "y": "independent"}}
        },
        {
          "width": 507, "height": 116,
          "data": {"name": "lc"},
          "layer": [
            {"mark": {"type": "line", "color": "black", "strokeWidth": 1},
             "encoding": {
               "x": {"field": "t", "type": "quantitative", "scale": {"domain": [-300, 500], "nice": false, "zero": false},
                     "axis": {"orient": "bottom", "values": [-300,-280,-260,-240,-220,-200,-180,-160,-140,-120,-100,-80,-60,-40,-20,0,20,40,60,80,100,120,140,160,180,200,220,240,260,280,300,320,340,360,380,400,420,440,460,480,500], "labelExpr": "datum.value % 100 === 0 ? datum.label : ''", "labelPadding": 18, "title": "Time (sec)\u00a0\u00a0\u00a0[T₀ = 08h 28m 27s (UT)]", "titlePadding": 9, "tickDash": {"condition": {"test": "datum.value % 100 !== 0", "value": [3, 20]}, "value": [1, 0]}}},
               "y": {"field": "b4", "type": "quantitative", "scale": {"domain": [100, 293], "nice": false, "zero": false},
                     "axis": {"orient": "left", "values": [110,120,130,140,150,160,170,180,190,200,210,220,230,240,250,260,270,280,290], "title": null, "labelExpr": "datum.value % 50 === 0 ? datum.label : ''", "tickDash": {"condition": {"test": "datum.value % 50 !== 0", "value": [3, 20]}, "value": [1, 0]}}}
             }},
            {"mark": {"type": "line", "opacity": 0},
             "encoding": {
               "x": {"field": "t", "type": "quantitative", "axis": {"orient": "top", "values": [-300,-280,-260,-240,-220,-200,-180,-160,-140,-120,-100,-80,-60,-40,-20,0,20,40,60,80,100,120,140,160,180,200,220,240,260,280,300,320,340,360,380,400,420,440,460,480,500], "labels": false, "title": null, "tickDash": {"condition": {"test": "datum.value % 100 !== 0", "value": [3, 20]}, "value": [1, 0]}}},
               "y": {"field": "b4", "type": "quantitative", "axis": {"orient": "right", "values": [110,120,130,140,150,160,170,180,190,200,210,220,230,240,250,260,270,280,290], "labels": false, "title": null, "tickDash": {"condition": {"test": "datum.value % 50 !== 0", "value": [3, 20]}, "value": [1, 0]}}}
             }},
            {"data": {"values": [{}]},
             "mark": {"type": "text", "fontSize": 14, "color": "black"},
             "encoding": {"x": {"datum": 296, "axis": null}, "y": {"datum": 233, "axis": null}, "text": {"value": "330 − 1000 keV"}}}
          ],
          "resolve": {"axis": {"x": "independent", "y": "independent"}}
        }
      ]
    }
  ],
  "spacing": 24
}
